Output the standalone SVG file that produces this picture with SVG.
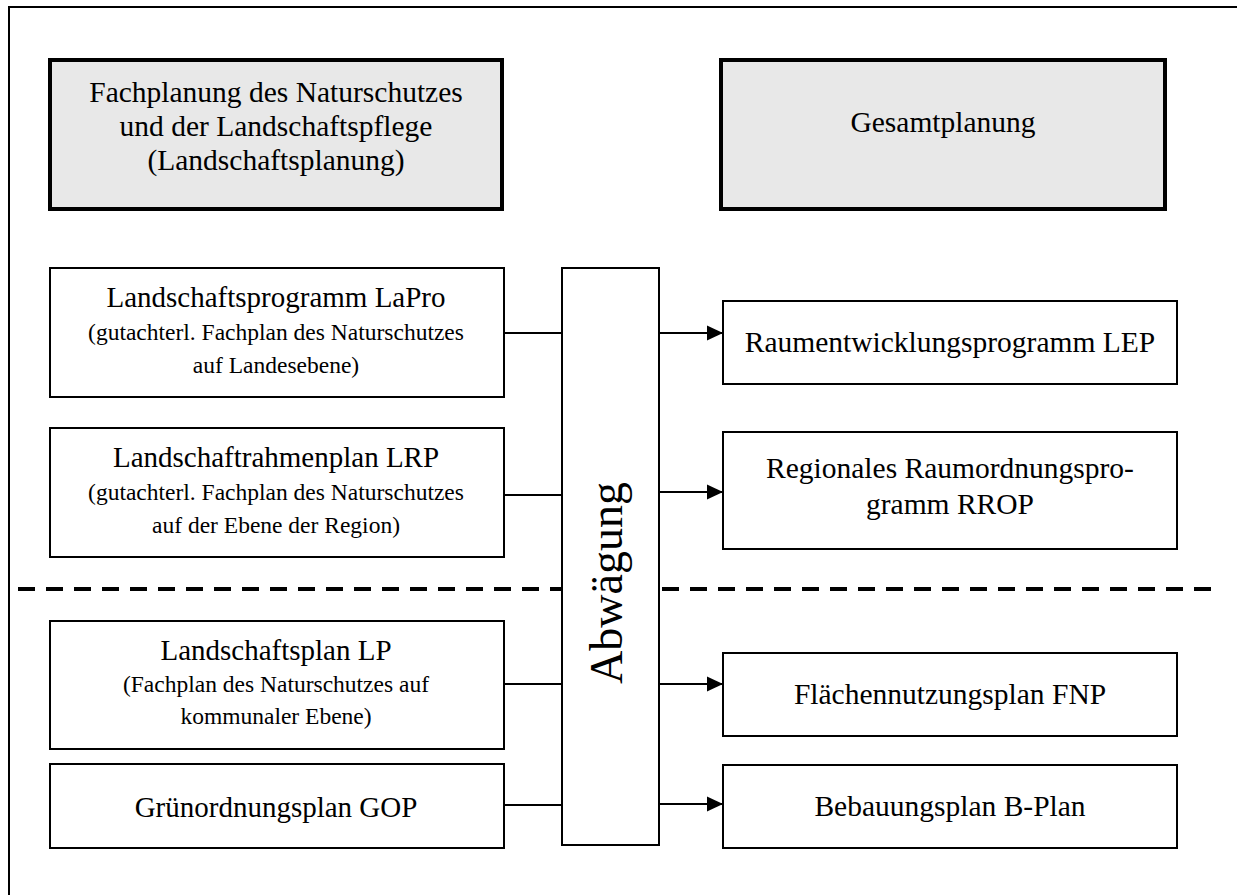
<svg xmlns="http://www.w3.org/2000/svg" width="1237" height="895" viewBox="0 0 1237 895">
<defs>
<marker id="ah" markerWidth="16" markerHeight="16" viewBox="0 0 16 16" refX="16" refY="8" orient="auto" markerUnits="userSpaceOnUse">
<path d="M0,0.5 L16,8 L0,15.5 Z" fill="#000"/>
</marker>
<style>
.hdr{fill:#e8e8e8;stroke:#000;stroke-width:4}
.box{fill:#fff;stroke:#000;stroke-width:2}
text{font-family:"Liberation Serif","Times New Roman",serif;fill:#000;text-anchor:middle}
.h{font-size:29.5px}
.t{font-size:29px}
.r{font-size:29.5px}
.s{font-size:23.5px}
.ln{stroke:#000;stroke-width:2;fill:none}
.ar{stroke:#000;stroke-width:2;fill:none;marker-end:url(#ah)}
</style>
</defs>
<rect width="1237" height="895" fill="#fff"/>
<g id="frame">
<path d="M9,895 V7 H1237" fill="none" stroke="#000" stroke-width="2"/>
</g>
<g id="divider">
<line x1="18" y1="589" x2="1212" y2="589" stroke="#000" stroke-width="4" stroke-dasharray="17 11"/>
</g>
<g id="connectors">
<line class="ln" x1="504" y1="333" x2="563" y2="333"/>
<line class="ln" x1="504" y1="495" x2="568" y2="495"/>
<line class="ln" x1="504" y1="684" x2="563" y2="684"/>
<line class="ln" x1="504" y1="805" x2="568" y2="805"/>
<line class="ar" x1="659" y1="333" x2="723" y2="333"/>
<line class="ar" x1="659" y1="492" x2="723" y2="492"/>
<line class="ar" x1="659" y1="684" x2="723" y2="684"/>
<line class="ar" x1="659" y1="804" x2="723" y2="804"/>
</g>
<g id="hdr-left">
<rect class="hdr" x="50" y="60" width="452" height="149"/>
<text class="h" x="276" y="102">Fachplanung des Naturschutzes</text>
<text class="h" x="276" y="136">und der Landschaftspflege</text>
<text class="h" x="276" y="170">(Landschaftsplanung)</text>
</g>
<g id="hdr-right">
<rect class="hdr" x="721" y="60" width="444" height="149"/>
<text class="h" x="943" y="132">Gesamtplanung</text>
</g>
<g id="lapro">
<rect class="box" x="50" y="268" width="454" height="129"/>
<text class="t" x="276" y="307">Landschaftsprogramm LaPro</text>
<text class="s" x="276" y="340">(gutachterl. Fachplan des Naturschutzes</text>
<text class="s" x="276" y="373">auf Landesebene)</text>
</g>
<g id="lrp">
<rect class="box" x="50" y="428" width="454" height="129"/>
<text class="t" x="276" y="467">Landschaftrahmenplan LRP</text>
<text class="s" x="276" y="500">(gutachterl. Fachplan des Naturschutzes</text>
<text class="s" x="276" y="533">auf der Ebene der Region)</text>
</g>
<g id="lp">
<rect class="box" x="50" y="621" width="454" height="128"/>
<text class="t" x="276" y="660">Landschaftsplan LP</text>
<text class="s" x="276" y="692">(Fachplan des Naturschutzes auf</text>
<text class="s" x="276" y="724">kommunaler Ebene)</text>
</g>
<g id="gop">
<rect class="box" x="50" y="764" width="454" height="84"/>
<text class="t" x="276" y="817">Grünordnungsplan GOP</text>
</g>
<g id="abwaegung">
<rect class="box" x="562" y="268" width="97" height="577"/>
<text x="622" y="583" font-size="46" transform="rotate(-90 622 583)">Abwägung</text>
</g>
<g id="lep">
<rect class="box" x="723" y="301" width="454" height="83"/>
<text class="r" x="950" y="352">Raumentwicklungsprogramm LEP</text>
</g>
<g id="rrop">
<rect class="box" x="723" y="432" width="454" height="117"/>
<text class="r" x="950" y="478">Regionales Raumordnungspro-</text>
<text class="r" x="950" y="514">gramm RROP</text>
</g>
<g id="fnp">
<rect class="box" x="723" y="653" width="454" height="83"/>
<text class="r" x="950" y="704">Flächennutzungsplan FNP</text>
</g>
<g id="bplan">
<rect class="box" x="723" y="765" width="454" height="83"/>
<text class="r" x="950" y="816">Bebauungsplan B-Plan</text>
</g>
</svg>
